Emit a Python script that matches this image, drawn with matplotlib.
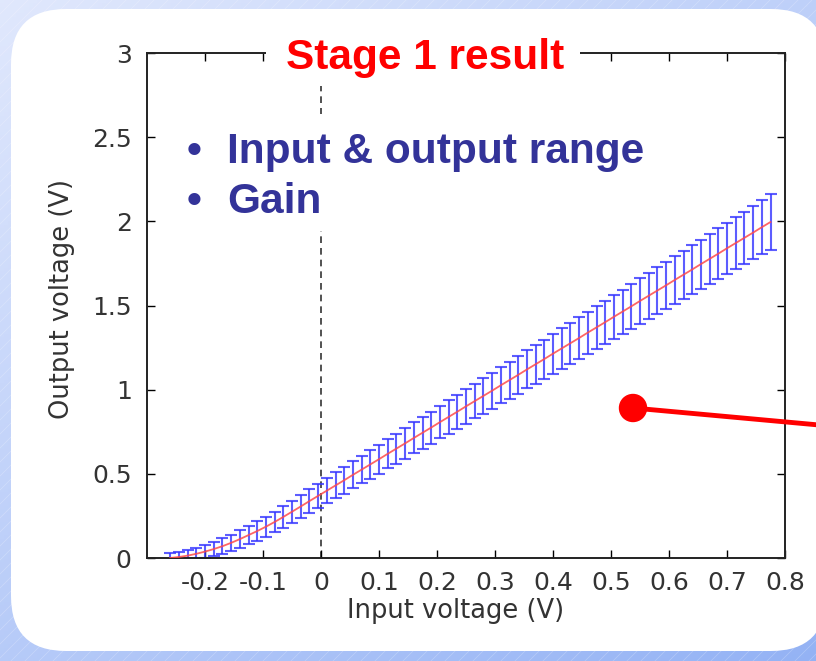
import numpy as np
import matplotlib.pyplot as plt
from matplotlib.patches import FancyBboxPatch, Circle, Rectangle
from matplotlib.lines import Line2D

# Stage 1 transfer curve: input voltage, mean output, error half-width
vin = [-0.26, -0.245, -0.23, -0.215, -0.2, -0.185, -0.17, -0.155, -0.14, -0.125,
       -0.11, -0.095, -0.08, -0.065, -0.05, -0.035, -0.02, -0.005, 0.01, 0.025,
       0.04, 0.055, 0.07, 0.085, 0.1, 0.115, 0.13, 0.145, 0.16, 0.175,
       0.19, 0.205, 0.22, 0.235, 0.25, 0.265, 0.28, 0.295, 0.31, 0.325,
       0.34, 0.355, 0.37, 0.385, 0.4, 0.415, 0.43, 0.445, 0.46, 0.475,
       0.49, 0.505, 0.52, 0.535, 0.55, 0.565, 0.58, 0.595, 0.61, 0.625,
       0.64, 0.655, 0.67, 0.685, 0.7, 0.715, 0.73, 0.745, 0.76, 0.775]
vout = [0.000, 0.006, 0.014, 0.025, 0.038, 0.053, 0.070, 0.090, 0.112, 0.136,
        0.160, 0.186, 0.214, 0.244, 0.275, 0.306, 0.338, 0.369, 0.400, 0.431,
        0.462, 0.494, 0.525, 0.556, 0.587, 0.619, 0.650, 0.681, 0.713, 0.744,
        0.775, 0.807, 0.838, 0.869, 0.901, 0.932, 0.963, 0.994, 1.026, 1.057,
        1.088, 1.120, 1.151, 1.182, 1.214, 1.245, 1.276, 1.307, 1.339, 1.370,
        1.401, 1.433, 1.464, 1.495, 1.527, 1.558, 1.589, 1.620, 1.652, 1.683,
        1.714, 1.746, 1.777, 1.808, 1.840, 1.871, 1.902, 1.933, 1.965, 1.996]
verr = [0.030, 0.032, 0.034, 0.037, 0.040, 0.043, 0.046, 0.049, 0.052, 0.055,
        0.058, 0.060, 0.062, 0.064, 0.066, 0.068, 0.070, 0.072, 0.074, 0.077,
        0.079, 0.081, 0.082, 0.084, 0.086, 0.087, 0.089, 0.090, 0.092, 0.094,
        0.095, 0.097, 0.099, 0.100, 0.102, 0.103, 0.105, 0.107, 0.108, 0.110,
        0.112, 0.113, 0.115, 0.116, 0.118, 0.120, 0.121, 0.123, 0.125, 0.126,
        0.128, 0.130, 0.131, 0.133, 0.134, 0.136, 0.138, 0.139, 0.141, 0.143,
        0.144, 0.146, 0.148, 0.150, 0.152, 0.154, 0.156, 0.158, 0.161, 0.164]

xticks = [-0.2, -0.1, 0, 0.1, 0.2, 0.3, 0.4, 0.5, 0.6, 0.7, 0.8]
xticklabels = ['-0.2', '-0.1', '0', '0.1', '0.2', '0.3', '0.4', '0.5', '0.6', '0.7', '0.8']
yticks = [0, 0.5, 1, 1.5, 2, 2.5, 3]
yticklabels = ['0', '0.5', '1', '1.5', '2', '2.5', '3']

plt.rcParams['font.family'] = ['DejaVu Sans']
slide_font = ['Liberation Sans', 'DejaVu Sans']

W, H = 816, 661
fig = plt.figure(figsize=(W / 100, H / 100), dpi=100)

# slide background: blue gradient with a white rounded panel
bg = fig.add_axes([0, 0, 1, 1])
bg.set_xlim(0, W)
bg.set_ylim(H, 0)
bg.axis('off')
gx, gy = np.meshgrid(np.linspace(0, 1, 200), np.linspace(0, 1, 200))
t = 0.55 * gy + 0.45 * gx
c0 = np.array([0.88, 0.91, 0.99])
c1 = np.array([0.58, 0.70, 0.96])
grad = c0 + (c1 - c0) * t[..., None]
bg.imshow(grad, extent=[0, W, H, 0], aspect='auto', zorder=0)
for k in range(-H, W, 14):
    bg.plot([k, k + H], [H, 0], color='white', lw=0.5, alpha=0.25, zorder=1)
panel = FancyBboxPatch((11, 9), W + 10 - 11, H - 10 - 9,
                       boxstyle='round,pad=0,rounding_size=55',
                       fc='white', ec='none', zorder=2)
bg.add_patch(panel)

# the plot itself
ax = fig.add_axes([147 / W, 1 - 558 / H, (785 - 147) / W, (558 - 53) / H])
ax.set_facecolor('white')
ax.errorbar(vin, vout, yerr=verr, fmt='none', ecolor='#3535ff', alpha=0.8,
            elinewidth=1.5, capsize=4.5, capthick=1.5, zorder=2)
ax.plot(vin, vout, color='#ff4a4a', lw=1.3, alpha=0.85, zorder=3)
ax.axvline(0, color='#333333', ls=(0, (4, 3)), lw=1.2, zorder=1)

ax.set_xlim(-0.3, 0.8)
ax.set_ylim(0, 3)
ax.set_xticks(xticks)
ax.set_xticklabels(xticklabels)
ax.set_yticks(yticks)
ax.set_yticklabels(yticklabels)
ax.tick_params(direction='in', top=True, right=True, length=6, width=1,
               labelsize=18, labelcolor='#333333')
ax.tick_params(axis='x', pad=9)
ax.tick_params(axis='y', pad=11)
for s in ax.spines.values():
    s.set_linewidth(1.4)
    s.set_color('#222222')
ax.set_xlabel('Input voltage (V)', fontsize=18.5, color='#333333', va='top')
ax.xaxis.set_label_coords(0.483, -0.08)
ax.set_ylabel('Output voltage (V)', fontsize=18.5, color='#333333')
ax.yaxis.set_label_coords(-0.113, 0.513)

# slide annotations on top of the plot
ov = fig.add_axes([0, 0, 1, 1], facecolor='none')
ov.set_xlim(0, W)
ov.set_ylim(H, 0)
ov.axis('off')
ov.add_patch(Rectangle((266, 28), 314, 58, fc='white', ec='none'))
ov.text(425, 69, 'Stage 1 result', color='#ff0000', fontsize=30.5,
        fontweight='bold', ha='center', va='baseline', family=slide_font)
ov.add_patch(Rectangle((178, 114), 480, 117, fc='white', ec='none'))
bullets = ['Input & output range', 'Gain']
for i, item in enumerate(bullets):
    yb = 163 + 50 * i
    ov.text(187, yb, '\u2022', color='#333399', fontsize=30.5, fontweight='bold',
            ha='left', va='baseline', family=slide_font)
    ov.text(227, yb, item, color='#333399', fontsize=30.5, fontweight='bold',
            ha='left', va='baseline', family=slide_font)
ov.add_line(Line2D([633, 830], [408, 426], color='#ff0000', lw=3.5,
                   solid_capstyle='butt'))
ov.add_patch(Circle((633, 408), 13.5, color='#ff0000'))

fig.savefig('out.png', dpi=100)
